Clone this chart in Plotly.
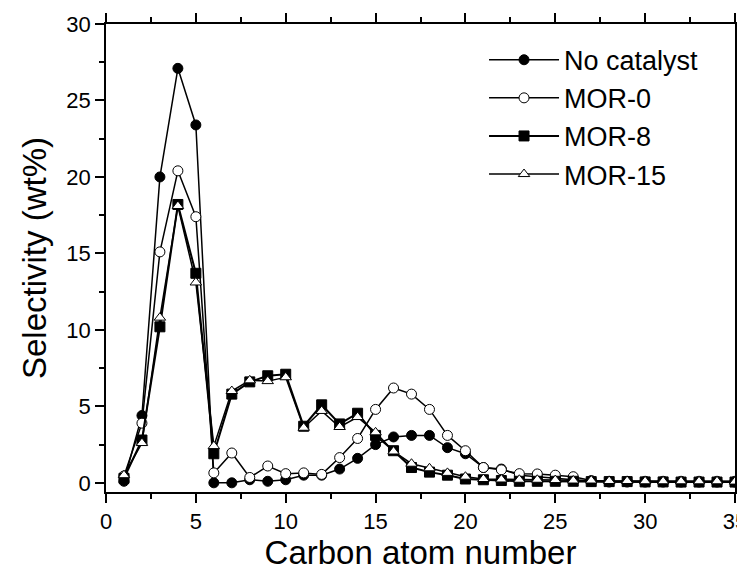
import plotly.graph_objects as go

carbon = list(range(1, 36))

no_catalyst = [0.1, 4.4, 20.0, 27.1, 23.4, 0.0, 0.0, 0.2, 0.1, 0.2,
               0.5, 0.5, 0.9, 1.6, 2.5, 3.0, 3.1, 3.1, 2.3, 1.9,
               1.0, 0.9, 0.5, 0.4, 0.3, 0.2, 0.1, 0.05, 0.05, 0.05,
               0.05, 0.05, 0.05, 0.05, 0.05]
mor_0 = [0.45, 3.9, 15.1, 20.4, 17.4, 0.65, 1.95, 0.35, 1.1, 0.6,
         0.65, 0.55, 1.65, 2.9, 4.8, 6.2, 5.8, 4.8, 3.1, 2.1,
         1.0, 0.85, 0.6, 0.58, 0.5, 0.4, 0.15, 0.1, 0.1, 0.1,
         0.1, 0.1, 0.1, 0.1, 0.1]
mor_8 = [0.3, 2.8, 10.2, 18.2, 13.7, 1.9, 5.8, 6.6, 7.0, 7.1,
         3.7, 5.1, 3.85, 4.55, 3.1, 2.1, 1.0, 0.7, 0.5, 0.25,
         0.2, 0.15, 0.1, 0.1, 0.1, 0.1, 0.08, 0.08, 0.08, 0.06,
         0.06, 0.05, 0.05, 0.05, 0.05]
mor_15 = [0.5, 2.6, 10.8, 18.1, 13.1, 2.4, 6.0, 6.7, 6.65, 6.9,
          3.6, 4.7, 3.65, 4.3, 3.3, 2.05, 1.25, 0.95, 0.65, 0.4,
          0.25, 0.22, 0.2, 0.2, 0.18, 0.15, 0.15, 0.12, 0.12, 0.1,
          0.1, 0.1, 0.1, 0.1, 0.08]

series = [
    ("No catalyst", no_catalyst, "circle", "black", 1.5),
    ("MOR-0", mor_0, "circle", "white", 1.5),
    ("MOR-8", mor_8, "square", "black", 2),
    ("MOR-15", mor_15, "triangle-up", "white", 1.5),
]

FONT = "Arial, Liberation Sans, Helvetica, sans-serif"

fig = go.Figure()
for name, vals, sym, fill, lw in series:
    fig.add_trace(go.Scatter(
        x=carbon, y=vals, name=name, mode="lines+markers",
        line=dict(color="black", width=lw),
        marker=dict(symbol=sym, size=10, color=fill,
                    line=dict(color="black", width=1)),
    ))

axis_common = dict(
    showgrid=False, zeroline=False, showline=True, linecolor="black",
    linewidth=1.5, mirror="ticks", ticks="outside", ticklen=9,
    tickwidth=1.5, tickcolor="black", automargin=False,
    ticklabeloverflow="allow",
    tickfont=dict(family=FONT, size=22, color="black"),
)

fig.update_xaxes(
    range=[0, 35], dtick=5, tick0=0,
    minor=dict(dtick=2.5, ticks="outside", ticklen=5, tickwidth=1.5, tickcolor="black"),
    title=dict(text="Carbon atom number", font=dict(family=FONT, size=33, color="black"), standoff=8),
    **axis_common,
)
fig.update_yaxes(
    range=[-0.6, 30], dtick=5, tick0=0,
    minor=dict(dtick=2.5, ticks="outside", ticklen=5, tickwidth=1.5, tickcolor="black"),
    title=dict(text="Selectivity (wt%)", font=dict(family=FONT, size=33, color="black"), standoff=10),
    **axis_common,
)

fig.update_layout(
    width=737, height=577,
    margin=dict(l=106, r=2, t=24, b=85),
    paper_bgcolor="white", plot_bgcolor="white",
    showlegend=True,
    legend=dict(
        x=0.601, y=0.975, xanchor="left", yanchor="top",
        bgcolor="rgba(0,0,0,0)", borderwidth=0,
        font=dict(family=FONT, size=27, color="black"),
        itemwidth=70, tracegroupgap=0,
    ),
)

fig.write_html("out.html")
